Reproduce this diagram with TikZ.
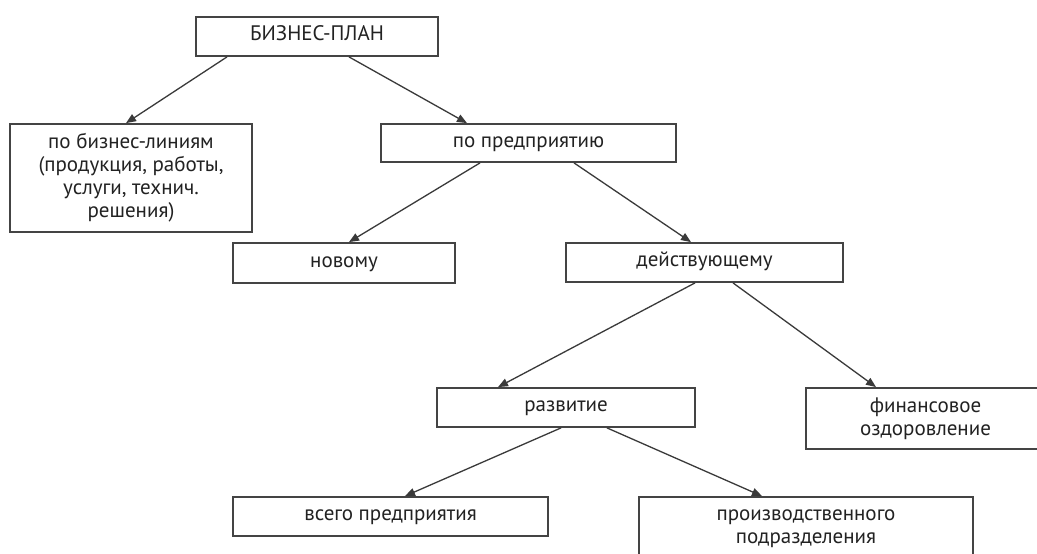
\documentclass[tikz,border=0pt]{standalone}
\usepackage{fontspec}
\setmainfont{PT Sans}
\usetikzlibrary{arrows.meta}
\definecolor{boxline}{HTML}{444444}
\definecolor{arrline}{HTML}{3A3A3A}
\definecolor{txt}{HTML}{222222}
\tikzset{
  box/.style={draw=boxline, line width=1.8pt, inner sep=0pt, align=center,
    text=txt, font=\fontsize{21}{23}\selectfont},
  oneline/.style={text height=0.9em, text depth=0.1em},
  arr/.style={draw=arrline, line width=1.3pt,
    -{Triangle[length=10pt,width=8pt]}}
}
\begin{document}
\begin{tikzpicture}[x=1pt,y=-1pt]
\clip (0,0) rectangle (1037,554);
\fill[white] (0,0) rectangle (1037,554);
\node[box, oneline, minimum width=242pt, minimum height=39pt] (A) at (317,36.5) {БИЗНЕС-ПЛАН};
\node[box, minimum width=242pt, minimum height=108pt] (B) at (131,178)
  {по бизнес-линиям\\(продукция, работы,\\услуги, технич.\\решения)};
\node[box, oneline, minimum width=295pt, minimum height=38pt] (C) at (528.5,143) {по предприятию};
\node[box, oneline, minimum width=222pt, minimum height=40pt] (D) at (344,263) {новому};
\node[box, oneline, minimum width=277pt, minimum height=39pt] (E) at (704.5,262.5) {действующему};
\node[box, oneline, minimum width=258pt, minimum height=39pt] (F) at (566,407.5) {развитие};
\node[box, minimum width=239pt, minimum height=61pt] (G) at (925.5,418.5) {финансовое\\оздоровление};
\node[box, oneline, minimum width=315pt, minimum height=39pt] (H) at (390.5,516.5) {всего предприятия};
\node[box, minimum width=334pt, minimum height=63pt] (I) at (806,528.5) {производственного\\подразделения};

\draw[arr] ([xshift=-90pt]A.south) -- ([xshift=-5pt]B.north);
\draw[arr] ([xshift=32pt]A.south) -- ([xshift=-61.5pt]C.north);
\draw[arr] ([xshift=-48.5pt]C.south) -- ([xshift=5pt]D.north);
\draw[arr] ([xshift=45.5pt]C.south) -- ([xshift=-13.5pt]E.north);
\draw[arr] ([xshift=-9.5pt]E.south) -- ([xshift=-68pt]F.north);
\draw[arr] ([xshift=28.5pt]E.south) -- ([xshift=-49.5pt]G.north);
\draw[arr] ([xshift=-5pt]F.south) -- ([xshift=14.5pt]H.north);
\draw[arr] ([xshift=41pt]F.south) -- ([xshift=-44pt]I.north);
\end{tikzpicture}
\end{document}
